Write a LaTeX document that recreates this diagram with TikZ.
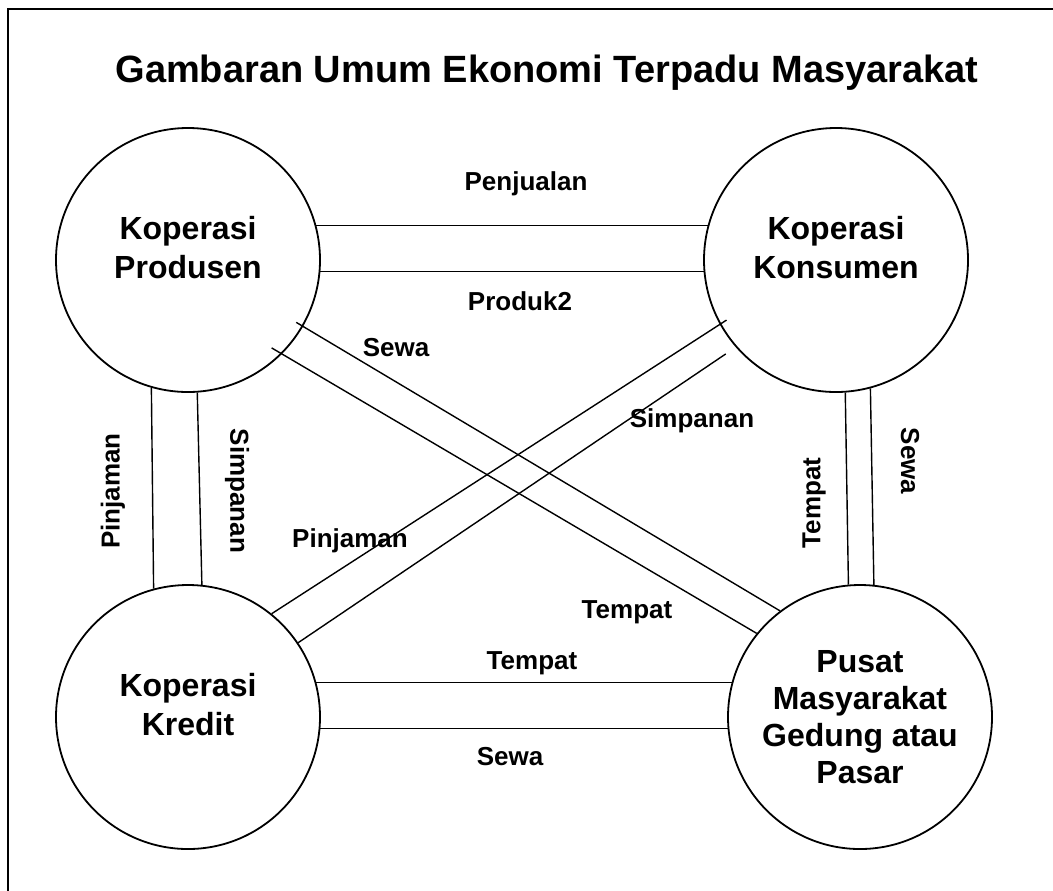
\documentclass[tikz,border=0pt]{standalone}
\usepackage{fontspec}
\setmainfont{Liberation Sans}
\begin{document}
\begin{tikzpicture}[x=0.5pt, y=-0.5pt,
    kop/.style={circle, draw, line width=0.9pt, minimum size=132pt, inner sep=0pt},
    kopteks/.style={align=center, inner sep=0pt, font=\fontsize{16}{19.5}\selectfont\bfseries},
    jalur/.style={line width=0.7pt},
    teks/.style={inner sep=0pt, font=\fontsize{13}{15}\selectfont\bfseries}]
    \useasboundingbox (0,0) rectangle (1053,890);
    \draw[line width=1pt] (8,900) -- (8,9) -- (1060,9);

    \node[anchor=base, font=\fontsize{19}{23}\selectfont\bfseries] (judul) at (547,82) {Gambaran Umum Ekonomi Terpadu Masyarakat};

    % koperasi
    \node[kop, label={[kopteks, yshift=6pt]center:Koperasi\\Produsen}] (prod) at (188,260) {};
    \node[kop, label={[kopteks, yshift=6pt]center:Koperasi\\Konsumen}] (kons) at (836,260) {};
    \node[kop, label={[kopteks, yshift=6pt]center:Koperasi\\Kredit}] (kred) at (188,717) {};
    \node[kop, label={[kopteks, font=\fontsize{16}{18.5}\selectfont\bfseries]center:Pusat\\Masyarakat\\Gedung atau\\Pasar}] (pusat) at (860,717) {};

    % jalur antar koperasi
    \draw[jalur] (prod.15) -- (kons.165);
    \draw[jalur] (prod.-5.6) -- (kons.185.6);
    \draw[jalur] (kred.15) -- (pusat.165);
    \draw[jalur] (kred.-5.6) -- (pusat.185.6);
    \draw[jalur] (prod.254.2) -- (kred.105.8);
    \draw[jalur] (prod.274.8) -- (kred.84.8);
    \draw[jalur] (kons.274.8) -- (pusat.95.2);
    \draw[jalur] (kons.285.8) -- (pusat.84.8);
    \draw[jalur, shorten <=-4pt] (prod.-30.1) -- (pusat.127.5);
    \draw[jalur, shorten <=-6pt] (prod.-45.3) -- (pusat.141.9);
    \draw[jalur, shorten >=-4pt] (kred.51.9) -- (kons.209);
    \draw[jalur, shorten >=6pt] (kred.34.2) -- (kons.221.9);

    \node[teks] (lPenjualan) at (526,184) {Penjualan};
    \node[teks] (lProduk) at (520,301) {Produk2};
    \node[teks] (lSewaD) at (396,348) {Sewa};
    \node[teks] (lSimpananD) at (692,421) {Simpanan};
    \node[teks] (lPinjamanD) at (350,541) {Pinjaman};
    \node[teks] (lTempatD) at (627,612) {Tempat};
    \node[teks] (lTempatB) at (532,663) {Tempat};
    \node[teks] (lSewaB) at (510,757) {Sewa};
    \node[teks, rotate=90] (lPinjamanV) at (113,491) {Pinjaman};
    \node[teks, rotate=-90] (lSimpananV) at (237,491) {Simpanan};
    \node[teks, rotate=90] (lTempatV) at (814,503) {Tempat};
    \node[teks, rotate=-90] (lSewaV) at (910,461) {Sewa};
\end{tikzpicture}
\end{document}
